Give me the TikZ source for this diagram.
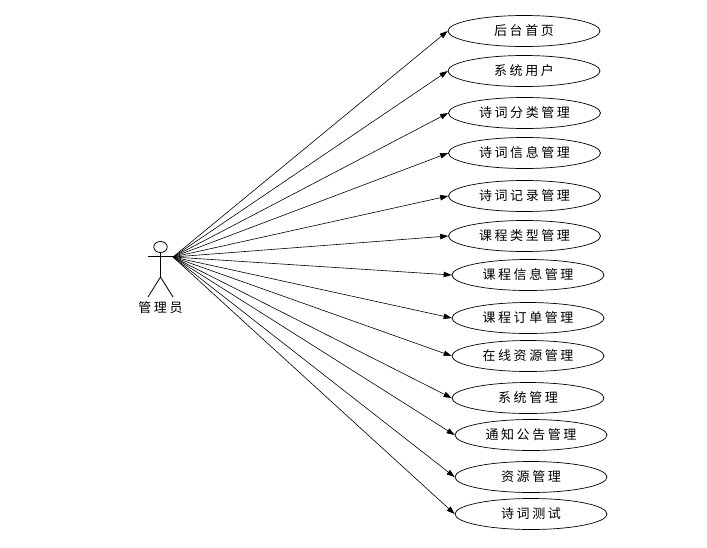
\documentclass[tikz,border=0pt]{standalone}
\usepackage{fontspec}
\newfontfamily\cjk[LetterSpace=20]{Noto Sans CJK SC}
\usetikzlibrary{shapes.geometric,arrows.meta}
\tikzset{
  usecase/.style={ellipse,draw=black,line width=0.7pt,fill=white,minimum width=152pt,minimum height=31pt,inner sep=0pt,font=\cjk\fontsize{13pt}{15pt}\selectfont,text=black},
  actorline/.style={draw=black,line width=0.8pt},
  link/.style={draw=black,line width=0.6pt,-{Triangle[length=8pt,width=5.5pt]},shorten >=0pt},
}
\begin{document}
\begin{tikzpicture}[x=1pt,y=-1pt]
\useasboundingbox (0,0) rectangle (707,547);
% actor
\node[draw=black,line width=0.8pt,ellipse,minimum width=13.5pt,minimum height=11pt,inner sep=0pt] (head) at (160.5,247) {};
\coordinate (armL) at (148,256.5);
\coordinate (armR) at (173,256.5);
\coordinate (hip) at (160.5,277);
\coordinate (footL) at (148,297);
\coordinate (footR) at (173,297);
\coordinate (hub) at (173,257);
\draw[actorline] (head.south) -- (hip) (armL) -- (armR) (footL) -- (hip) -- (footR);
\node[font=\cjk\fontsize{13pt}{15pt}\selectfont] (actorlabel) at (160.5,308) {管理员};
% use cases
\node[usecase] (u1) at (524,31) {后台首页};
\node[usecase] (u2) at (524,71) {系统用户};
\node[usecase] (u3) at (524.5,113) {诗词分类管理};
\node[usecase] (u4) at (524.5,153) {诗词信息管理};
\node[usecase] (u5) at (524.5,196) {诗词记录管理};
\node[usecase] (u6) at (524.5,236) {课程类型管理};
\node[usecase] (u7) at (528,275) {课程信息管理};
\node[usecase] (u8) at (528,318) {课程订单管理};
\node[usecase] (u9) at (528,356) {在线资源管理};
\node[usecase] (u10) at (528,398) {系统管理};
\node[usecase] (u11) at (531,435) {通知公告管理};
\node[usecase] (u12) at (531,477) {资源管理};
\node[usecase] (u13) at (531,514) {诗词测试};
\foreach \n in {1,...,13} \draw[link] (hub) -- (u\n.west);
\end{tikzpicture}
\end{document}
